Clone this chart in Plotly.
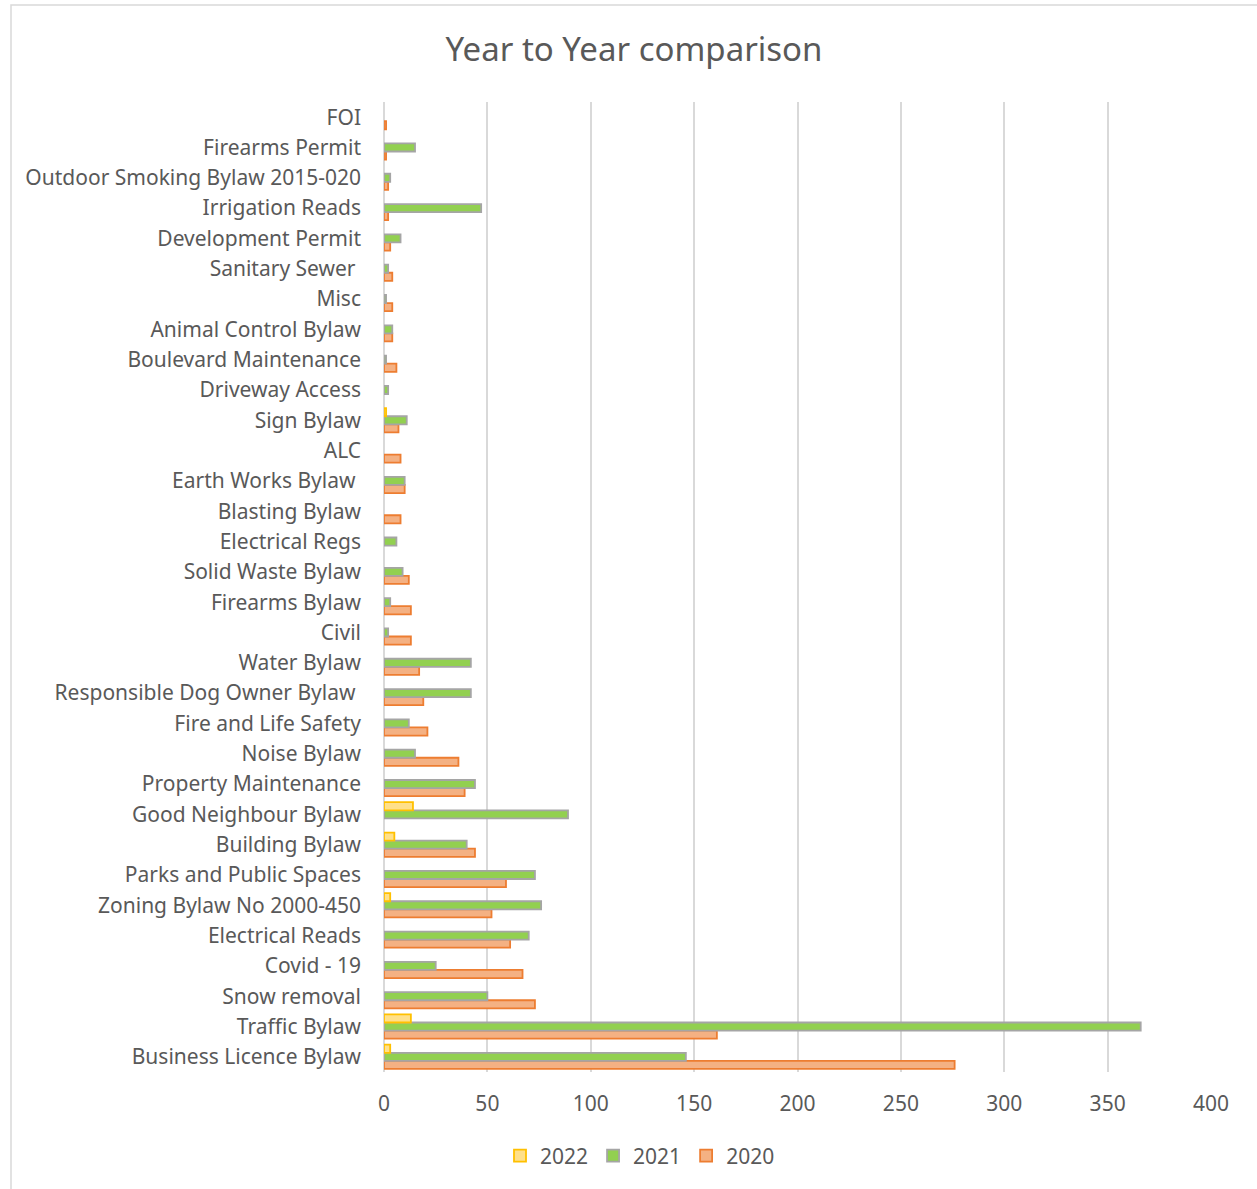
import plotly.graph_objects as go

categories = [
    "Business Licence Bylaw", "Traffic Bylaw", "Snow removal", "Covid - 19",
    "Electrical Reads", "Zoning Bylaw No 2000-450", "Parks and Public Spaces",
    "Building Bylaw", "Good Neighbour Bylaw", "Property Maintenance",
    "Noise Bylaw", "Fire and Life Safety", "Responsible Dog Owner Bylaw\u00a0",
    "Water Bylaw", "Civil", "Firearms Bylaw", "Solid Waste Bylaw",
    "Electrical Regs", "Blasting Bylaw", "Earth Works Bylaw\u00a0", "ALC",
    "Sign Bylaw", "Driveway Access", "Boulevard Maintenance",
    "Animal Control Bylaw", "Misc", "Sanitary Sewer\u00a0", "Development Permit",
    "Irrigation Reads", "Outdoor Smoking Bylaw 2015-020", "Firearms Permit", "FOI",
]

v2022 = [3, 13, None, None, None, 3, None, 5, 14, None, None, None, None, None,
         None, None, None, None, None, None, None, 1, None, None, None, None,
         None, None, None, None, None, None]
v2021 = [146, 366, 50, 25, 70, 76, 73, 40, 89, 44, 15, 12, 42, 42, 2, 3, 9, 6,
         None, 10, None, 11, 2, 1, 4, 1, 2, 8, 47, 3, 15, None]
v2020 = [276, 161, 73, 67, 61, 52, 59, 44, None, 39, 36, 21, 19, 17, 13, 13, 12,
         None, 8, 10, 8, 7, None, 6, 4, 4, 4, 3, 2, 2, 1, 1]

x_ticks = [0, 50, 100, 150, 200, 250, 300, 350, 400]

grey = "#595959"
font_family = "'Noto Sans', 'Open Sans', sans-serif"

fig = go.Figure()
fig.add_trace(go.Bar(y=categories, x=v2020, name="2020", orientation="h",
                     marker=dict(color="#F4B183", line=dict(color="#ED7D31", width=1.8))))
fig.add_trace(go.Bar(y=categories, x=v2021, name="2021", orientation="h",
                     marker=dict(color="#92D050", line=dict(color="#A5A5A5", width=1.8))))
fig.add_trace(go.Bar(y=categories, x=v2022, name="2022", orientation="h",
                     marker=dict(color="#FFE08A", line=dict(color="#FFC000", width=1.8))))

L, R, T, B = 384, 46, 102, 117
W, H = 1257, 1189
pw, ph = W - L - R, H - T - B

def px_x(p):
    return (p - L) / pw

def px_y(p):
    return (H - B - p) / ph

fig.add_shape(type="rect", xref="paper", yref="paper",
              x0=px_x(11), x1=px_x(1262), y0=px_y(1200), y1=px_y(5),
              line=dict(color="#D9D9D9", width=1.5), fillcolor="rgba(0,0,0,0)",
              layer="below")

fig.update_layout(
    width=W, height=H,
    margin=dict(l=L, r=R, t=T, b=B),
    paper_bgcolor="white", plot_bgcolor="white",
    barmode="group", bargap=0.2, bargroupgap=0,
    title=dict(text="Year to Year comparison", x=(634) / W, xanchor="center",
               y=1 - 49 / H, yanchor="middle",
               font=dict(family=font_family, size=33, color=grey)),
    font=dict(family=font_family, color=grey),
    xaxis=dict(range=[0, 400], tickvals=x_ticks, showgrid=True,
               gridcolor="#D9D9D9", gridwidth=1.5, zeroline=True,
               zerolinecolor="#D9D9D9", zerolinewidth=1.5,
               tickfont=dict(size=21, color=grey), ticks="", ticklabelstandoff=17,
               fixedrange=True),
    yaxis=dict(type="category", categoryorder="array", categoryarray=categories,
               range=[-0.5, len(categories) - 0.5],
               tickfont=dict(size=21, color=grey), ticks="", ticklabelstandoff=22,
               showgrid=False, fixedrange=True),
    legend=dict(orientation="h", traceorder="reversed", x=640 / W * 1.0,
                xref="container", xanchor="center", y=(H - 1156) / H,
                yref="container", yanchor="middle",
                font=dict(size=21, color=grey), itemwidth=30),
    showlegend=True,
)

fig.write_html("out.html")
